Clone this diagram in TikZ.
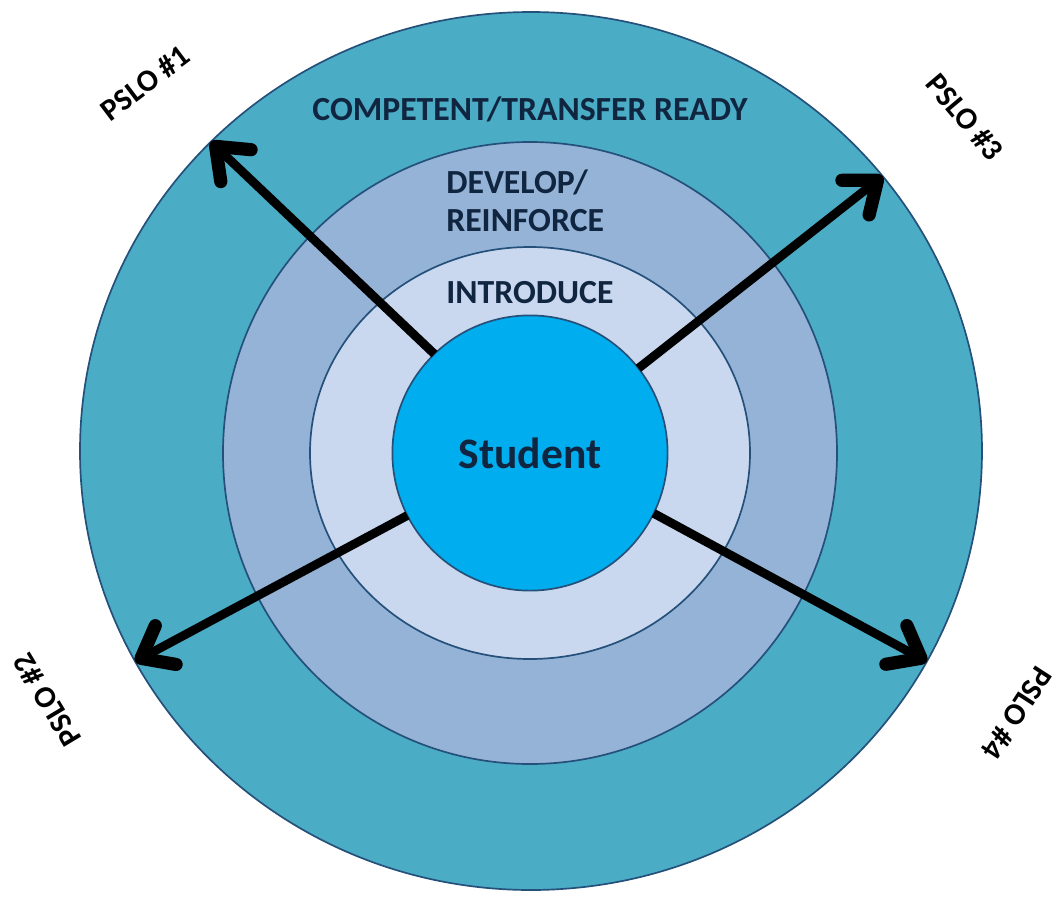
\documentclass[tikz,border=0pt]{standalone}
\usepackage{fontspec}
\setmainfont{Carlito}
\usetikzlibrary{shapes.geometric,arrows.meta}
\definecolor{ringteal}{HTML}{4BACC6}
\definecolor{ringblue}{HTML}{95B3D7}
\definecolor{ringpale}{HTML}{C9D8EF}
\definecolor{studentblue}{HTML}{00ADEE}
\definecolor{ringline}{HTML}{24507A}
\definecolor{ringtext}{HTML}{10253F}

\begin{document}
\begin{tikzpicture}[
	ring/.style={draw=ringline,line width=1.2pt,ellipse,inner sep=0,outer sep=0},
	ringlabel/.style={text=ringtext,font=\bfseries\fontsize{24}{27}\selectfont,inner sep=0},
	pslo/.style={font=\bfseries\fontsize{22}{26}\selectfont,inner sep=0},
	toward/.style={line width=0.22cm,-{Straight Barb[length=0.7cm,width=1.1cm,line width=0pt 1.5,round]}}]
	\useasboundingbox (-13.25,-11.15) rectangle (13.175,11.325);
	\node[ring,fill=ringteal,minimum width=22.55cm,minimum height=21.95cm] (ring3) at (0.025,0.05) {};
	\node[ring,fill=ringblue,minimum width=15.35cm,minimum height=15.55cm] (ring2) at (0,0) {};
	\node[ring,fill=ringpale,minimum width=11cm,minimum height=10.3cm] (ring1) at (0,0) {};
	\node[ring,circle,fill=studentblue,minimum size=6.88cm,text=ringtext,font=\bfseries\fontsize{31}{36}\selectfont] (student) at (0,0) {Student};
	\node[ringlabel] (lab3) at (0,8.6) {COMPETENT/TRANSFER READY};
	\node[ringlabel,align=left,anchor=west] (lab2) at (-2.1,6.3) {DEVELOP/\\REINFORCE};
	\node[ringlabel] (lab1) at (0,4) {INTRODUCE};
	\draw[toward] (student.134) -- (ring3.136);
	\draw[toward] (student.38) -- (ring3.38);
	\draw[toward] (student.207) -- (ring3.208);
	\draw[toward] (student.-26) -- (ring3.-28);
	\node[pslo,rotate=37] (pslo1) at (-9.625,9.25) {PSLO \#1};
	\node[pslo,rotate=-50] (pslo3) at (10.875,8.4) {PSLO \#3};
	\node[pslo,rotate=121] (pslo2) at (-12.075,-6.175) {PSLO \#2};
	\node[pslo,rotate=237] (pslo4) at (12.175,-6.5) {PSLO \#4};
\end{tikzpicture}
\end{document}
